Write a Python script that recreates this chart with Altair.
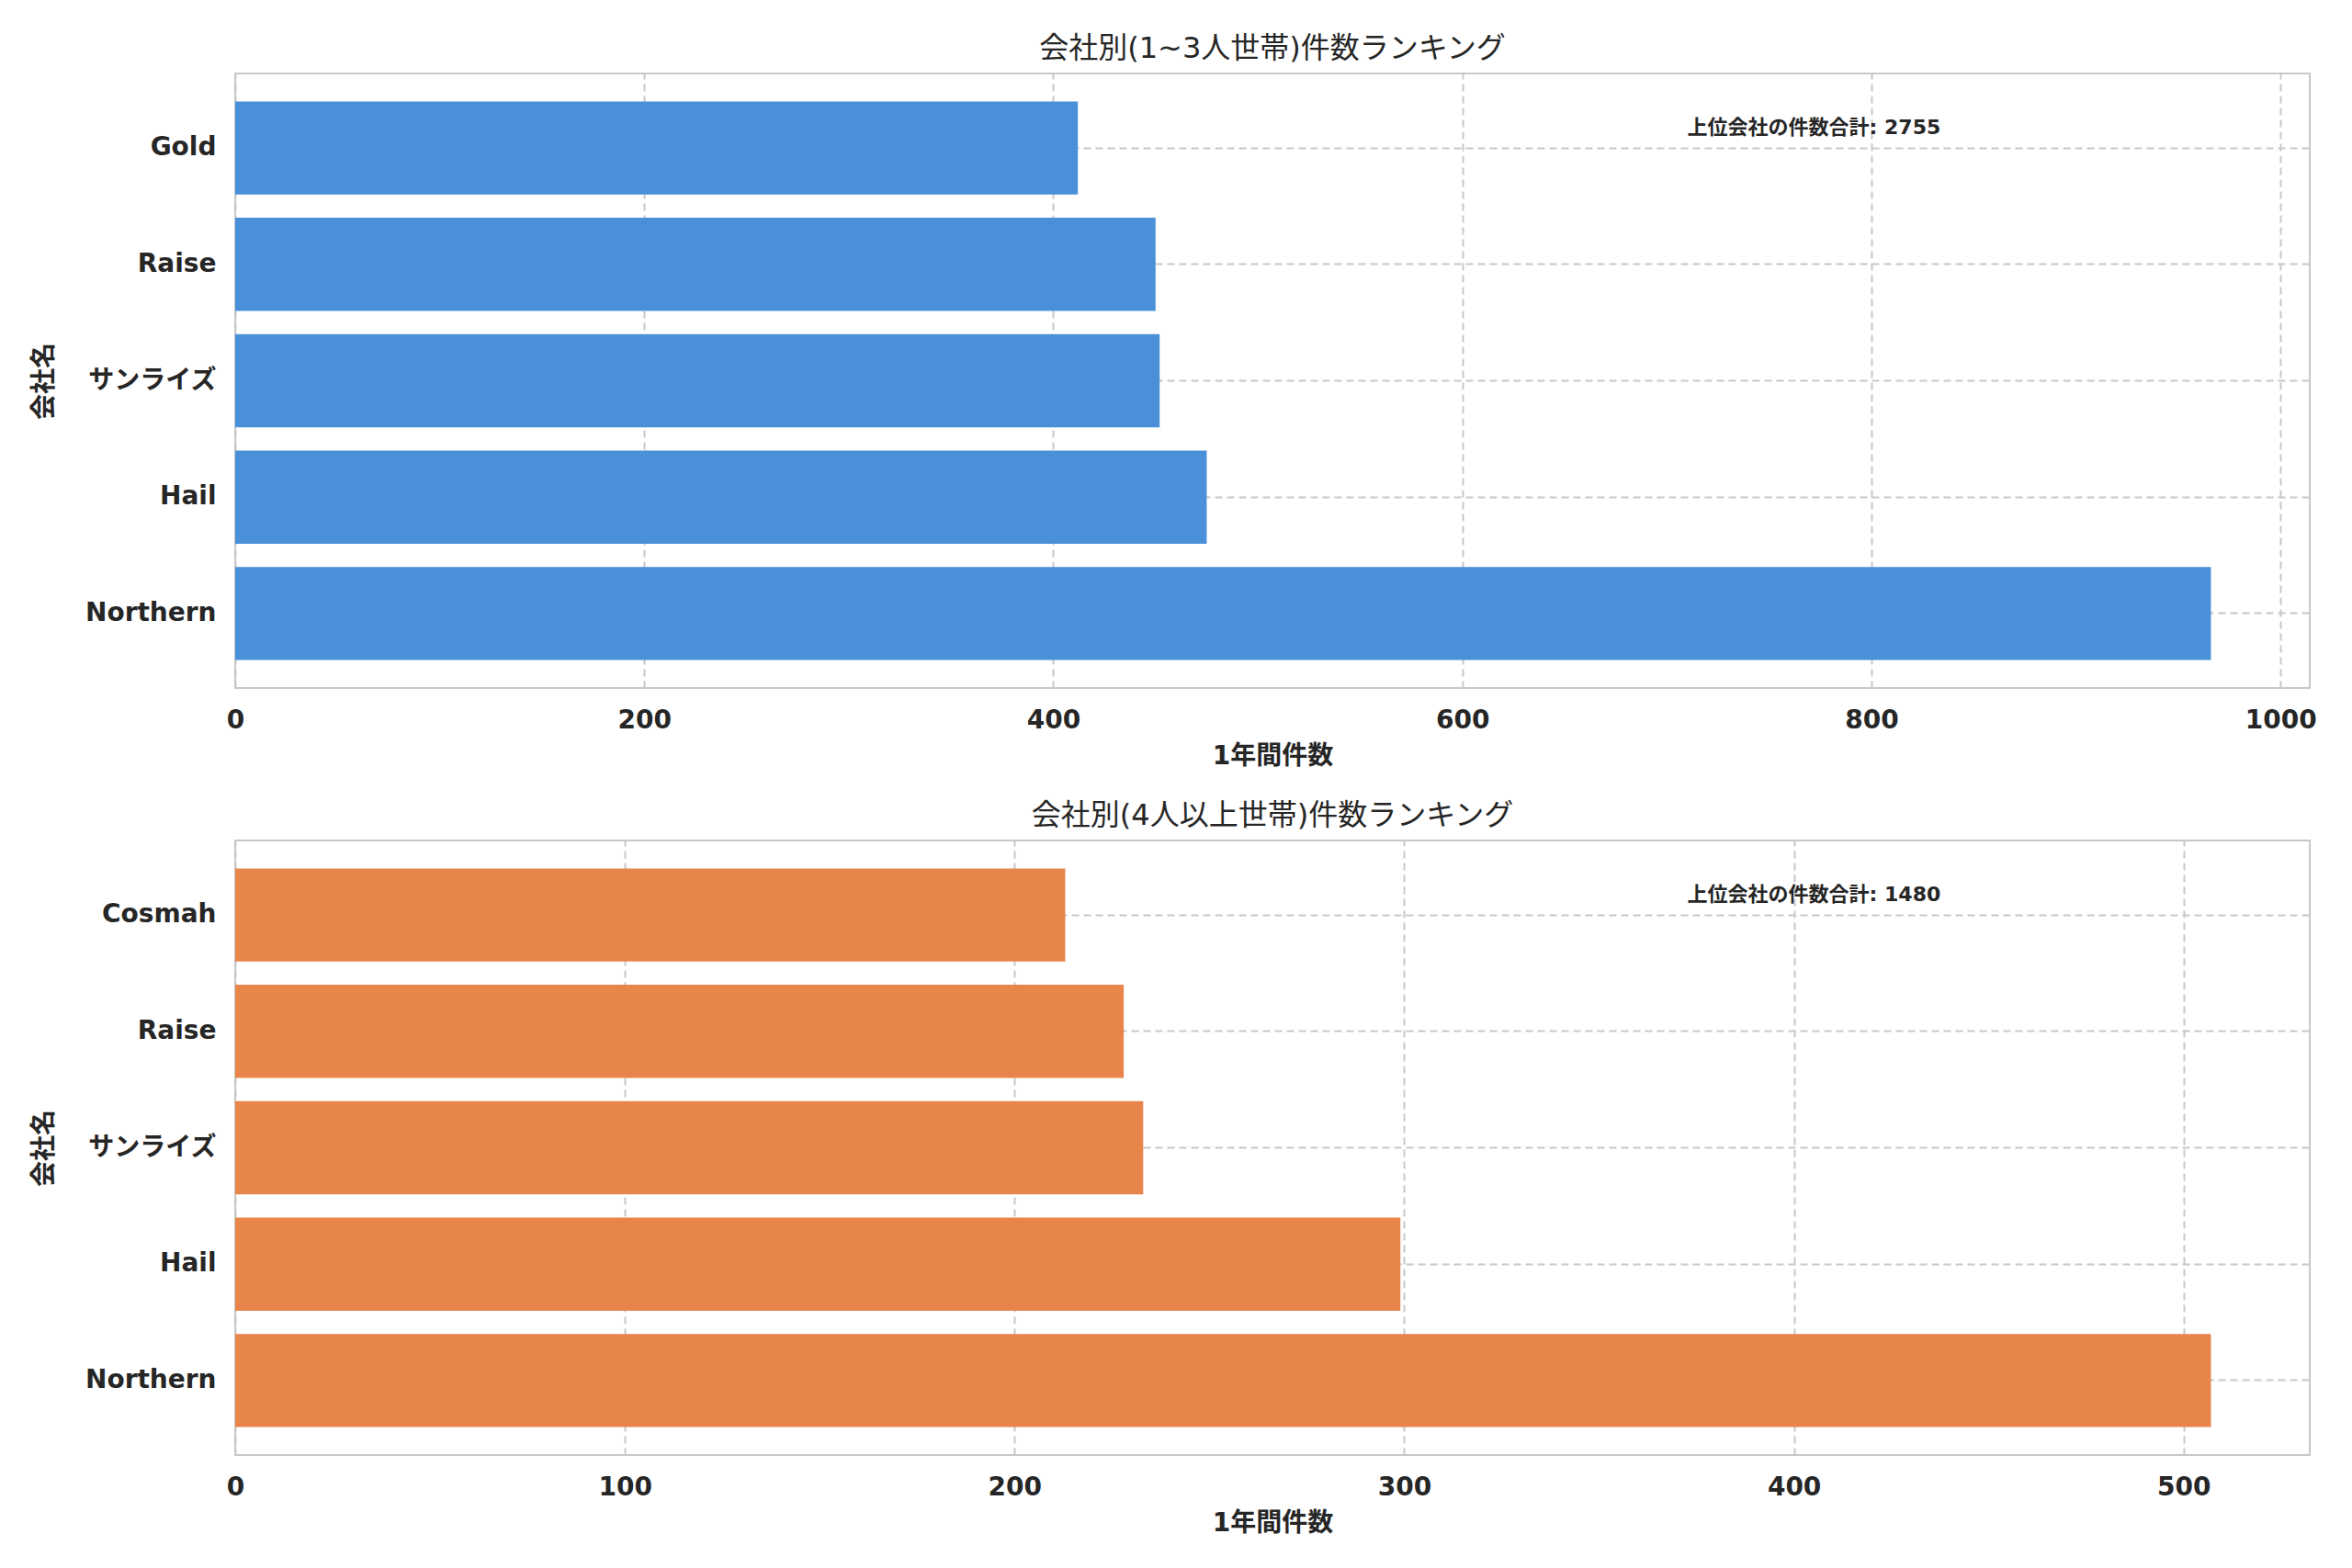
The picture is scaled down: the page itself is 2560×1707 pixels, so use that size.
import pandas as pd
import altair as alt

# top chart: 1~3 person households
top_brands = ["Gold", "Raise", "サンライズ", "Hail", "Northern"]
top_counts = [412, 450, 452, 475, 966]
top_ticks = [0, 200, 400, 600, 800, 1000]

# bottom chart: 4+ person households
bottom_brands = ["Cosmah", "Raise", "サンライズ", "Hail", "Northern"]
bottom_counts = [213, 228, 233, 299, 507]
bottom_ticks = [0, 100, 200, 300, 400, 500]

FONT = "DejaVu Sans, Noto Sans CJK JP, sans-serif"
W, H = 2258, 669


def panel(brands, counts, ticks, color, title):
    df = pd.DataFrame({"brand": brands, "count": counts})
    xmax = max(counts) * 1.05  # matplotlib-like margin

    bars = alt.Chart(df).mark_bar(color=color).encode(
        y=alt.Y("brand:N", sort=None,
                scale=alt.Scale(paddingInner=0.2, paddingOuter=0.24),
                axis=alt.Axis(title="会社名", labelPadding=21, titleX=-208, titleY=H / 2,
                              titleBaseline="middle")),
        x=alt.X("count:Q", scale=alt.Scale(domain=[0, xmax], nice=False),
                axis=alt.Axis(title="1年間件数", values=ticks, format="d", labelFlush=False,
                              labelPadding=21, titlePadding=11)),
    )

    note = pd.DataFrame({"label": [f"上位会社の件数合計: {sum(counts)}"]})
    text = alt.Chart(note).mark_text(
        align="left", baseline="middle", fontSize=22, fontWeight="bold",
        font=FONT, color="#262626",
    ).encode(text="label:N", x=alt.value(0.7 * W), y=alt.value(59))

    return (bars + text).properties(
        width=W, height=H,
        title=alt.TitleParams(title, frame="group", offset=10),
    )


top = panel(top_brands, top_counts, top_ticks, "#4a90d9", "会社別(1~3人世帯)件数ランキング")
bottom = panel(bottom_brands, bottom_counts, bottom_ticks, "#e8854b", "会社別(4人以上世帯)件数ランキング")

chart = alt.vconcat(top, bottom, spacing=33).properties(
    padding={"left": 25, "top": 28, "right": 5, "bottom": 5}
).configure(font=FONT).configure_title(
    fontSize=32, fontWeight="normal", color="#262626", font=FONT
).configure_axis(
    labelFontSize=28, labelFontWeight="bold", labelColor="#262626",
    titleFontSize=28, titleFontWeight="bold", titleColor="#262626",
    labelFont=FONT, titleFont=FONT,
    grid=True, gridColor="#c8c8c8", gridDash=[8, 5], gridWidth=2,
    domain=False, ticks=False,
).configure_view(stroke="#c8c8c8", strokeWidth=2)

chart.save("out.html", embed_options={"renderer": "svg", "actions": False})
